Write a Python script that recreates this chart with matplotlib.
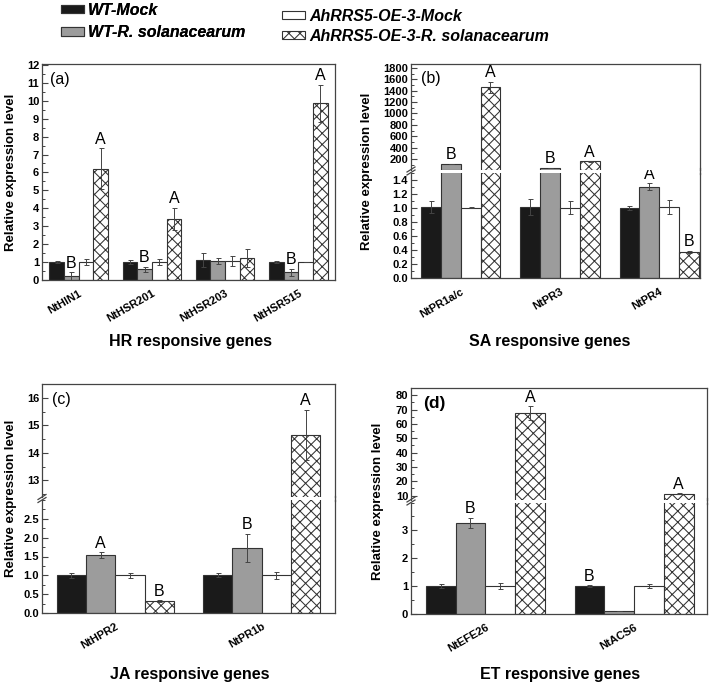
import matplotlib
matplotlib.use('Agg')
import matplotlib.pyplot as plt
import numpy as np
from matplotlib.ticker import MultipleLocator, AutoMinorLocator, FormatStrFormatter
from matplotlib.lines import Line2D

plt.rcParams['font.family'] = ['Liberation Sans', 'DejaVu Sans']
plt.rcParams['hatch.linewidth'] = 0.75
plt.rcParams['hatch.color'] = '#333333'

W, H = 709, 686

series = ['WT-Mock', 'WT-R. solanacearum', 'AhRRS5-OE-3-Mock', 'AhRRS5-OE-3-R. solanacearum']

# HR responsive genes
hr_genes = ['NtHIN1', 'NtHSR201', 'NtHSR203', 'NtHSR515']
hr_wt_mock = [1.0, 1.0, 1.10, 1.0]
hr_wt_mock_err = [0.05, 0.10, 0.38, 0.05]
hr_wt_rs = [0.20, 0.60, 1.05, 0.42]
hr_wt_rs_err = [0.22, 0.15, 0.18, 0.22]
hr_oe_mock = [1.0, 1.0, 1.08, 1.0]
hr_oe_mock_err = [0.18, 0.15, 0.28, 0.02]
hr_oe_rs = [6.2, 3.42, 1.22, 9.85]
hr_oe_rs_err = [1.15, 0.62, 0.50, 1.05]
hr_letters = [['', 'B', '', 'A'], ['', 'B', '', 'A'], ['', '', '', ''], ['', 'B', '', 'A']]

# SA responsive genes
sa_genes = ['NtPR1a/c', 'NtPR3', 'NtPR4']
sa_wt_mock = [1.01, 1.01, 1.0]
sa_wt_mock_err = [0.09, 0.11, 0.03]
sa_wt_rs = [115, 50, 1.30]
sa_wt_rs_err = [0, 0, 0.05]
sa_oe_mock = [1.0, 1.0, 1.01]
sa_oe_mock_err = [0.01, 0.09, 0.10]
sa_oe_rs = [1460, 160, 0.37]
sa_oe_rs_err = [100, 5, 0.02]
sa_letters = [['', 'B', '', 'A'], ['', 'B', '', 'A'], ['', 'A', '', 'B']]

# JA responsive genes
ja_genes = ['NtHPR2', 'NtPR1b']
ja_wt_mock = [1.0, 1.0]
ja_wt_mock_err = [0.07, 0.05]
ja_wt_rs = [1.53, 1.73]
ja_wt_rs_err = [0.08, 0.38]
ja_oe_mock = [1.0, 1.0]
ja_oe_mock_err = [0.07, 0.10]
ja_oe_rs = [0.32, 14.65]
ja_oe_rs_err = [0.02, 0.92]
ja_letters = [['', 'A', '', 'B'], ['', 'B', '', 'A']]

# ET responsive genes
et_genes = ['NtEFE26', 'NtACS6']
et_wt_mock = [1.0, 1.0]
et_wt_mock_err = [0.08, 0.04]
et_wt_rs = [3.27, 0.10]
et_wt_rs_err = [0.18, 0.0]
et_oe_mock = [1.0, 1.0]
et_oe_mock_err = [0.12, 0.08]
et_oe_rs = [67.5, 11.2]
et_oe_rs_err = [5.0, 0.4]
et_letters = [['', 'B', '', 'A'], ['B', '', '', 'A']]

faces = ['#1a1a1a', '#9c9c9c', 'white', 'white']
hatches = ['', '', '', 'xxx']
EDGE = '#333333'
SP = '#444444'
bw = 0.2

fig = plt.figure(figsize=(W / 100, H / 100), dpi=100)


def frac(x0, y_top, x1, y_bot):
    return [x0 / W, 1 - y_bot / H, (x1 - x0) / W, (y_bot - y_top) / H]


def style_ax(ax):
    for s in ax.spines.values():
        s.set_color(SP)
        s.set_linewidth(0.9)
    ax.tick_params(axis='y', direction='in', length=4, width=0.8, color=SP,
                   labelsize=8, pad=2)
    ax.tick_params(axis='y', which='minor', direction='in', length=2, width=0.7, color=SP)
    ax.tick_params(axis='x', length=0)
    for lab in ax.get_yticklabels():
        lab.set_fontweight('bold')


def draw_bars(ax, vals, errs, lo=None):
    conts = []
    n = len(vals[0])
    x = np.arange(n)
    for i in range(4):
        v = np.array(vals[i], dtype=float)
        e = np.array(errs[i], dtype=float)
        if lo is not None:
            v = np.where(v > lo, v, np.nan)
        c = ax.bar(x + (i - 1.5) * bw, v, bw, color=faces[i], edgecolor=EDGE,
                   linewidth=0.8, hatch=hatches[i], label=series[i], zorder=2)
        ax.errorbar(x + (i - 1.5) * bw, v, yerr=e, fmt='none',
                    ecolor='#444444', elinewidth=0.7, capsize=1.8, capthick=0.7, zorder=3)
        conts.append(c)
    return conts


def set_genes(ax, genes):
    ax.set_xticks(np.arange(len(genes)))
    ax.set_xticklabels(genes, rotation=30, ha='right', rotation_mode='anchor',
                       fontsize=8, fontweight='bold')
    ax.tick_params(axis='x', pad=6)


def put_letters(axes_list, vals, errs, letters):
    n = len(vals[0])
    for g in range(n):
        for i in range(4):
            L = letters[g][i]
            if not L:
                continue
            y = vals[i][g] + errs[i][g]
            for ax in axes_list:
                lo, hi = ax.get_ylim()
                if lo <= y <= hi:
                    ax.annotate(L, (g + (i - 1.5) * bw, y), xytext=(0, 1),
                                textcoords='offset points', ha='center', va='bottom',
                                fontsize=11.5, zorder=5)
                    break


def broken(rect, gap_px=3):
    left, bottom, width, height = rect
    gap = gap_px / H
    h = (height - gap) / 2
    axb = fig.add_axes([left, bottom, width, h])
    axt = fig.add_axes([left, bottom + h + gap, width, h])
    axt.spines['bottom'].set_visible(False)
    axb.spines['top'].set_visible(False)
    fig.add_artist(Line2D([left + width] * 2, [bottom + h - 0.002, bottom + h + gap + 0.002],
                          transform=fig.transFigure, color=SP, lw=0.9))
    dx = 4 / W
    dy = 2.5 / H
    for yy in (bottom + h, bottom + h + gap):
        fig.add_artist(Line2D([left - dx, left + dx], [yy - dy, yy + dy],
                              transform=fig.transFigure, color=SP, lw=0.9))
    return axb, axt


def broken_panel(rect, vals, errs, low_lim, up_lim, xmax):
    lo_ax, hi_ax = broken(rect)
    draw_bars(lo_ax, vals, errs)
    draw_bars(hi_ax, vals, errs, lo=up_lim[0])
    for ax in (lo_ax, hi_ax):
        ax.set_xlim(-0.5, xmax)
    lo_ax.set_ylim(*low_lim)
    hi_ax.set_ylim(*up_lim)
    hi_ax.set_xticks([])
    return lo_ax, hi_ax


# ---------------- (a) ----------------
axa = fig.add_axes(frac(42, 64, 335, 280))
vals = [hr_wt_mock, hr_wt_rs, hr_oe_mock, hr_oe_rs]
errs = [hr_wt_mock_err, hr_wt_rs_err, hr_oe_mock_err, hr_oe_rs_err]
conts = draw_bars(axa, vals, errs)
axa.set_xlim(-0.5, 3.5)
axa.set_ylim(0, 12.05)
axa.yaxis.set_major_locator(MultipleLocator(1))
axa.yaxis.set_minor_locator(AutoMinorLocator(2))
set_genes(axa, hr_genes)
style_ax(axa)
put_letters([axa], vals, errs, hr_letters)
axa.text(0.028, 0.965, '(a)', transform=axa.transAxes, fontsize=11.5, va='top', ha='left')

# ---------------- (b) ----------------
vals = [sa_wt_mock, sa_wt_rs, sa_oe_mock, sa_oe_rs]
errs = [sa_wt_mock_err, sa_wt_rs_err, sa_oe_mock_err, sa_oe_rs_err]
axb_lo, axb_hi = broken_panel(frac(411, 64, 700, 278), vals, errs, (0, 1.5), (15, 1870), 2.41)
axb_lo.yaxis.set_major_locator(MultipleLocator(0.2))
axb_lo.yaxis.set_minor_locator(AutoMinorLocator(2))
axb_lo.yaxis.set_major_formatter(FormatStrFormatter('%.1f'))
axb_hi.set_yticks(np.arange(200, 1801, 200))
axb_hi.yaxis.set_minor_locator(AutoMinorLocator(2))
set_genes(axb_lo, sa_genes)
style_ax(axb_lo)
style_ax(axb_hi)
put_letters([axb_lo, axb_hi], vals, errs, sa_letters)
axb_hi.text(0.035, 0.93, '(b)', transform=axb_hi.transAxes, fontsize=11.5, va='top', ha='left')

# ---------------- (c) ----------------
vals = [ja_wt_mock, ja_wt_rs, ja_oe_mock, ja_oe_rs]
errs = [ja_wt_mock_err, ja_wt_rs_err, ja_oe_mock_err, ja_oe_rs_err]
axc_lo, axc_hi = broken_panel(frac(42, 384, 335, 613), vals, errs, (0, 3), (12.4, 16.5), 1.5)
axc_lo.set_yticks(np.arange(0, 2.51, 0.5))
axc_lo.yaxis.set_minor_locator(AutoMinorLocator(2))
axc_lo.yaxis.set_major_formatter(FormatStrFormatter('%.1f'))
axc_hi.set_yticks([13, 14, 15, 16])
axc_hi.yaxis.set_minor_locator(AutoMinorLocator(2))
set_genes(axc_lo, ja_genes)
style_ax(axc_lo)
style_ax(axc_hi)
put_letters([axc_lo, axc_hi], vals, errs, ja_letters)
axc_hi.text(0.035, 0.93, '(c)', transform=axc_hi.transAxes, fontsize=11.5, va='top', ha='left')

# ---------------- (d) ----------------
vals = [et_wt_mock, et_wt_rs, et_oe_mock, et_oe_rs]
errs = [et_wt_mock_err, et_wt_rs_err, et_oe_mock_err, et_oe_rs_err]
axd_lo, axd_hi = broken_panel(frac(411, 388, 707, 614), vals, errs, (0, 4), (7.3, 85), 1.49)
axd_lo.set_yticks([0, 1, 2, 3])
axd_lo.yaxis.set_minor_locator(AutoMinorLocator(2))
axd_hi.set_yticks(np.arange(10, 81, 10))
axd_hi.yaxis.set_minor_locator(AutoMinorLocator(2))
set_genes(axd_lo, et_genes)
style_ax(axd_lo)
style_ax(axd_hi)
put_letters([axd_lo, axd_hi], vals, errs, et_letters)
axd_hi.text(0.04, 0.93, '(d)', transform=axd_hi.transAxes, fontsize=12.5, fontweight='bold',
            va='top', ha='left')

# y labels
for xc, yc in [(11, 172), (367, 171), (11, 498), (378, 501)]:
    fig.text(xc / W, 1 - yc / H, 'Relative expression level', rotation=90,
             ha='center', va='center', fontsize=9.5, fontweight='bold')

# x titles
for xc, yc, t in [(190, 342, 'HR responsive genes'), (550, 342, 'SA responsive genes'),
                  (190, 674, 'JA responsive genes'), (560, 674, 'ET responsive genes')]:
    fig.text(xc / W, 1 - yc / H, t, ha='center', va='center', fontsize=11.5, fontweight='bold')

# legends
prop = dict(size=11.5, weight='bold', style='italic')
leg1 = fig.legend(conts[:2], series[:2], loc='upper left', bbox_to_anchor=(61 / W, 1 - 3 / H),
                  frameon=False, prop=prop, handlelength=1.45, handleheight=0.4,
                  handletextpad=0.25, borderpad=0, borderaxespad=0, labelspacing=0.45)
leg2 = fig.legend(conts[2:], series[2:], loc='upper left', bbox_to_anchor=(282 / W, 1 - 9 / H),
                  frameon=False, prop=prop, handlelength=1.45, handleheight=0.4,
                  handletextpad=0.25, borderpad=0, borderaxespad=0, labelspacing=0.3)
fig.add_artist(leg1)

fig.savefig('out.png', dpi=100)
